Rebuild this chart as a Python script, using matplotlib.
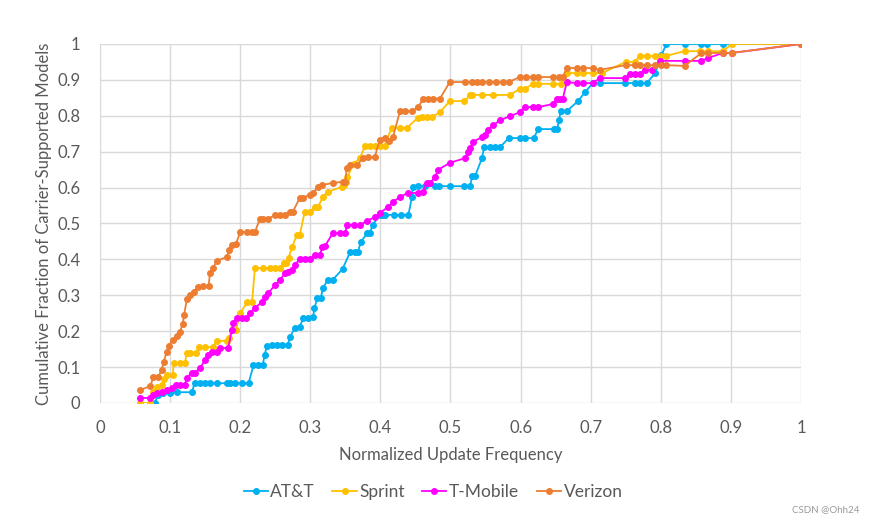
import numpy as np
import matplotlib.pyplot as plt

# ---- Data ----
att_x = [0.078, 0.083, 0.090, 0.100, 0.110, 0.131, 0.135, 0.142, 0.150, 0.157, 0.167,
         0.181, 0.185, 0.192, 0.202, 0.212, 0.219, 0.225, 0.232, 0.235, 0.238, 0.245,
         0.252, 0.260, 0.268, 0.271, 0.278, 0.285, 0.290, 0.297, 0.304, 0.306, 0.310,
         0.315, 0.318, 0.325, 0.332, 0.346, 0.357, 0.364, 0.368, 0.372, 0.381, 0.385,
         0.389, 0.399, 0.403, 0.407, 0.420, 0.430, 0.440, 0.445, 0.446, 0.453, 0.463,
         0.478, 0.484, 0.499, 0.520, 0.528, 0.531, 0.535, 0.545, 0.548, 0.556, 0.563,
         0.571, 0.583, 0.599, 0.606, 0.619, 0.625, 0.647, 0.652, 0.655, 0.657, 0.666,
         0.682, 0.692, 0.703, 0.713, 0.749, 0.763, 0.770, 0.780, 0.792, 0.801, 0.808,
         0.834, 0.858, 0.866, 0.889, 1.000]
att_y = [0.000, 0.022, 0.028, 0.028, 0.030, 0.030, 0.055, 0.055, 0.055, 0.055, 0.055,
         0.055, 0.055, 0.055, 0.055, 0.055, 0.105, 0.105, 0.105, 0.134, 0.159, 0.162,
         0.162, 0.162, 0.162, 0.184, 0.209, 0.212, 0.237, 0.237, 0.240, 0.265, 0.292,
         0.292, 0.320, 0.343, 0.343, 0.373, 0.421, 0.421, 0.421, 0.448, 0.473, 0.473,
         0.496, 0.524, 0.524, 0.524, 0.524, 0.524, 0.524, 0.574, 0.602, 0.604, 0.604,
         0.604, 0.604, 0.604, 0.604, 0.604, 0.632, 0.632, 0.682, 0.713, 0.713, 0.713,
         0.713, 0.738, 0.738, 0.738, 0.738, 0.763, 0.763, 0.763, 0.788, 0.813, 0.813,
         0.841, 0.866, 0.891, 0.891, 0.891, 0.891, 0.891, 0.891, 0.919, 0.969, 1.000,
         1.000, 1.000, 1.000, 1.000, 1.000]

sprint_x = [0.057, 0.071, 0.076, 0.081, 0.088, 0.092, 0.095, 0.104, 0.105, 0.114, 0.121,
            0.124, 0.128, 0.137, 0.141, 0.150, 0.161, 0.167, 0.181, 0.184, 0.188, 0.194,
            0.200, 0.210, 0.217, 0.221, 0.232, 0.242, 0.250, 0.257, 0.262, 0.266, 0.269,
            0.274, 0.281, 0.285, 0.292, 0.299, 0.307, 0.311, 0.318, 0.325, 0.345, 0.348,
            0.351, 0.353, 0.362, 0.371, 0.378, 0.385, 0.392, 0.399, 0.406, 0.416, 0.428,
            0.438, 0.453, 0.460, 0.467, 0.474, 0.485, 0.499, 0.520, 0.528, 0.531, 0.545,
            0.560, 0.585, 0.599, 0.606, 0.618, 0.625, 0.646, 0.658, 0.666, 0.680, 0.689,
            0.703, 0.716, 0.750, 0.763, 0.770, 0.780, 0.792, 0.801, 0.808, 0.834, 0.856,
            0.867, 0.889, 0.901, 1.000]
sprint_y = [0.000, 0.000, 0.031, 0.045, 0.050, 0.067, 0.078, 0.078, 0.111, 0.111, 0.111,
            0.139, 0.139, 0.139, 0.156, 0.156, 0.156, 0.173, 0.173, 0.181, 0.203, 0.203,
            0.250, 0.281, 0.281, 0.376, 0.376, 0.376, 0.376, 0.376, 0.390, 0.390, 0.404,
            0.435, 0.468, 0.468, 0.532, 0.532, 0.546, 0.546, 0.574, 0.588, 0.602, 0.607,
            0.616, 0.630, 0.667, 0.682, 0.716, 0.716, 0.716, 0.716, 0.716, 0.766, 0.766,
            0.766, 0.794, 0.797, 0.797, 0.797, 0.810, 0.841, 0.841, 0.858, 0.858, 0.858,
            0.858, 0.858, 0.875, 0.875, 0.889, 0.889, 0.889, 0.889, 0.919, 0.919, 0.919,
            0.919, 0.919, 0.950, 0.950, 0.967, 0.967, 0.967, 0.967, 0.967, 0.980, 0.980,
            0.980, 0.980, 1.000, 1.000]

tmobile_x = [0.057, 0.071, 0.076, 0.081, 0.088, 0.095, 0.103, 0.109, 0.114, 0.121, 0.124,
             0.131, 0.135, 0.143, 0.150, 0.154, 0.160, 0.167, 0.171, 0.183, 0.188, 0.190,
             0.195, 0.202, 0.209, 0.214, 0.221, 0.231, 0.235, 0.240, 0.250, 0.257, 0.264,
             0.268, 0.274, 0.278, 0.285, 0.292, 0.300, 0.307, 0.314, 0.317, 0.321, 0.332,
             0.342, 0.350, 0.352, 0.362, 0.371, 0.381, 0.392, 0.399, 0.411, 0.418, 0.428,
             0.439, 0.454, 0.461, 0.466, 0.471, 0.478, 0.482, 0.499, 0.521, 0.525, 0.528,
             0.532, 0.545, 0.549, 0.553, 0.561, 0.571, 0.585, 0.599, 0.606, 0.618, 0.625,
             0.646, 0.652, 0.656, 0.660, 0.666, 0.680, 0.689, 0.703, 0.713, 0.749, 0.756,
             0.763, 0.770, 0.777, 0.787, 0.799, 0.834, 0.858, 0.867, 0.889, 0.901, 1.000]
tmobile_y = [0.014, 0.014, 0.022, 0.028, 0.031, 0.036, 0.042, 0.050, 0.050, 0.050, 0.070,
             0.084, 0.084, 0.098, 0.120, 0.134, 0.142, 0.142, 0.153, 0.153, 0.203, 0.223,
             0.237, 0.237, 0.237, 0.250, 0.265, 0.281, 0.295, 0.306, 0.329, 0.343, 0.362,
             0.365, 0.370, 0.384, 0.401, 0.401, 0.401, 0.412, 0.412, 0.435, 0.437, 0.473,
             0.473, 0.473, 0.496, 0.496, 0.496, 0.507, 0.518, 0.529, 0.546, 0.560, 0.574,
             0.585, 0.585, 0.588, 0.613, 0.613, 0.630, 0.649, 0.669, 0.682, 0.699, 0.710,
             0.727, 0.741, 0.747, 0.760, 0.774, 0.788, 0.799, 0.810, 0.824, 0.824, 0.824,
             0.833, 0.846, 0.846, 0.846, 0.894, 0.891, 0.891, 0.891, 0.905, 0.905, 0.916,
             0.916, 0.916, 0.928, 0.928, 0.953, 0.953, 0.953, 0.961, 0.975, 0.975, 1.000]

verizon_x = [0.057, 0.072, 0.076, 0.083, 0.088, 0.091, 0.095, 0.098, 0.104, 0.110, 0.114,
             0.118, 0.120, 0.124, 0.128, 0.134, 0.140, 0.147, 0.155, 0.157, 0.161, 0.167,
             0.181, 0.184, 0.188, 0.194, 0.200, 0.210, 0.217, 0.221, 0.228, 0.232, 0.239,
             0.250, 0.257, 0.264, 0.271, 0.275, 0.285, 0.289, 0.299, 0.304, 0.311, 0.317,
             0.332, 0.346, 0.350, 0.352, 0.357, 0.367, 0.375, 0.382, 0.392, 0.399, 0.406,
             0.413, 0.418, 0.428, 0.435, 0.445, 0.454, 0.461, 0.468, 0.475, 0.485, 0.499,
             0.521, 0.531, 0.538, 0.545, 0.555, 0.565, 0.575, 0.583, 0.599, 0.608, 0.618,
             0.625, 0.646, 0.655, 0.660, 0.666, 0.681, 0.689, 0.703, 0.713, 0.750, 0.763,
             0.770, 0.780, 0.792, 0.801, 0.808, 0.834, 0.858, 0.867, 0.889, 0.901, 1.000]
verizon_y = [0.036, 0.047, 0.072, 0.072, 0.092, 0.114, 0.142, 0.160, 0.175, 0.187, 0.198,
             0.220, 0.245, 0.290, 0.300, 0.310, 0.323, 0.326, 0.326, 0.362, 0.376, 0.396,
             0.407, 0.426, 0.440, 0.443, 0.476, 0.476, 0.476, 0.476, 0.512, 0.512, 0.512,
             0.524, 0.524, 0.524, 0.532, 0.532, 0.571, 0.571, 0.580, 0.585, 0.602, 0.607,
             0.613, 0.616, 0.616, 0.655, 0.663, 0.663, 0.682, 0.685, 0.685, 0.733, 0.738,
             0.730, 0.741, 0.813, 0.813, 0.813, 0.824, 0.848, 0.848, 0.848, 0.848, 0.894,
             0.894, 0.894, 0.894, 0.894, 0.894, 0.894, 0.894, 0.894, 0.908, 0.908, 0.908,
             0.908, 0.908, 0.908, 0.908, 0.933, 0.933, 0.933, 0.933, 0.928, 0.941, 0.941,
             0.941, 0.941, 0.941, 0.941, 0.941, 0.939, 0.975, 0.975, 0.975, 0.975, 1.000]

series = [
    ("AT&T", att_x, att_y, "#00B0F0"),
    ("Sprint", sprint_x, sprint_y, "#FFC000"),
    ("T-Mobile", tmobile_x, tmobile_y, "#FF00FF"),
    ("Verizon", verizon_x, verizon_y, "#ED7D31"),
]

plt.rcParams['font.family'] = ['Lato', 'DejaVu Sans']

fig = plt.figure(figsize=(8.73, 5.25), dpi=100)
ax = fig.add_axes([0.1145, 0.2324, 0.803, 0.6838])

for name, xs, ys, col in series:
    ax.plot(xs, ys, color=col, lw=1.3, marker='o', ms=4, label=name)

ax.set_xlim(0, 1)
ax.set_ylim(0, 1)
ticks = np.round(np.arange(0, 1.01, 0.1), 1)
labels = ["0"] + [f"{t:g}" for t in ticks[1:-1]] + ["1"]
ax.set_xticks(ticks)
ax.set_xticklabels(labels)
ax.set_yticks(ticks)
ax.set_yticklabels(labels)
ax.grid(True, color='#D9D9D9', lw=1)
ax.set_axisbelow(True)
for s in ax.spines.values():
    s.set_visible(False)
ax.tick_params(length=0, labelsize=12, colors='#595959')
ax.tick_params(axis='x', pad=12)
ax.tick_params(axis='y', pad=14)

ax.set_xlabel('Normalized Update Frequency', fontsize=12, color='#595959', labelpad=8)
ax.set_ylabel('Cumulative Fraction of Carrier-Supported Models', fontsize=12,
              color='#595959', labelpad=4)

fig.legend(loc='center', bbox_to_anchor=(0.496, 0.063), ncol=4, frameon=False,
           fontsize=12.5, handlelength=1.4, columnspacing=1.0, handletextpad=0.15,
           labelcolor='#595959')

fig.text(0.985, 0.02, 'CSDN @Ohh24', ha='right', va='bottom', fontsize=7, color='#999999')

fig.savefig('out.png', dpi=100)
